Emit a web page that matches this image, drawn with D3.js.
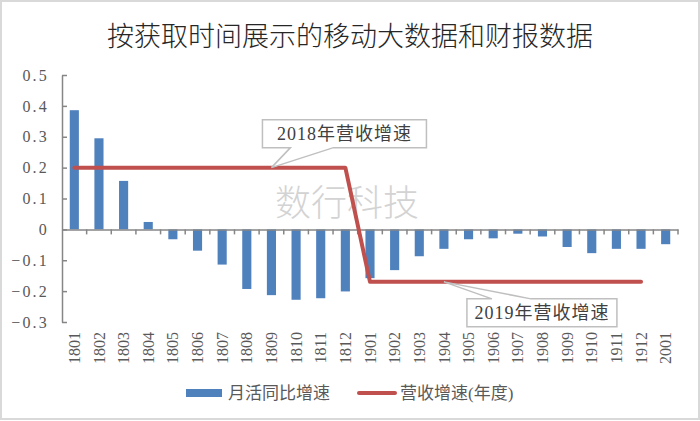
<!DOCTYPE html>
<html>
<head>
<meta charset="utf-8">
<script src="https://cdn.jsdelivr.net/npm/d3@7"></script>
<style>
  body { margin: 0; background: #fff; }
  text { font-family: "Liberation Serif", "Noto Sans CJK SC", serif; }
</style>
</head>
<body>
<div id="chart"></div>
<script>
// data
var categories = ["1801","1802","1803","1804","1805","1806","1807","1808","1809","1810","1811","1812",
                  "1901","1902","1903","1904","1905","1906","1907","1908","1909","1910","1911","1912","2001"];
var mauGrowth = [0.386, 0.295, 0.157, 0.024, -0.032, -0.069, -0.114, -0.193, -0.213, -0.228, -0.223, -0.201,
                 -0.158, -0.132, -0.087, -0.063, -0.032, -0.029, -0.014, -0.023, -0.057, -0.077, -0.063, -0.063, -0.048];
var revenueGrowth = [0.2, 0.2, 0.2, 0.2, 0.2, 0.2, 0.2, 0.2, 0.2, 0.2, 0.2, 0.2,
                     -0.17, -0.17, -0.17, -0.17, -0.17, -0.17, -0.17, -0.17, -0.17, -0.17, -0.17, -0.17, null];
var yTicks = [-0.3, -0.2, -0.1, 0, 0.1, 0.2, 0.3, 0.4, 0.5];
var legendNames = ["月活同比增速", "营收增速(年度)"];
var callouts = [
  {label: "2018年营收增速", at: "1809", above: true},
  {label: "2019年营收增速", at: "1904", above: false}
];

var W = 700, H = 421;
var blue = "#4f81bd", red = "#c0504d", axisColor = "#868686", labelColor = "#595959";

var svg = d3.select("#chart")
  .append("svg")
  .attr("width", W)
  .attr("height", H);

// outer frame
svg.append("rect")
  .attr("x", 1).attr("y", 1).attr("width", W - 2).attr("height", H - 3)
  .attr("fill", "#fff").attr("stroke", "#d9d9d9").attr("stroke-width", 2);

// title
svg.append("text")
  .attr("x", 350).attr("y", 46)
  .attr("text-anchor", "middle")
  .style("font-family", "'Noto Sans CJK SC', sans-serif")
  .style("font-size", "27px")
  .style("font-weight", 300)
  .attr("fill", "#262626")
  .text("按获取时间展示的移动大数据和财报数据");

var x = d3.scaleBand().domain(categories).range([62, 678]).padding(0);
var y = d3.scaleLinear().domain([-0.3, 0.5]).range([322, 75]);
var barW = x.step() * 0.37;

// watermark
svg.append("text")
  .attr("x", 347).attr("y", 216)
  .attr("text-anchor", "middle")
  .style("font-family", "'Noto Sans CJK SC', sans-serif")
  .style("font-size", "36px")
  .style("font-weight", 300)
  .attr("fill", "#d3d3d3")
  .text("数行科技");

// bars
svg.append("g").selectAll("rect")
  .data(categories)
  .join("rect")
  .attr("x", function(d) { return x(d) + x.bandwidth() / 2 - barW / 2; })
  .attr("width", barW)
  .attr("y", function(d, i) { return y(Math.max(0, mauGrowth[i])); })
  .attr("height", function(d, i) { return Math.abs(y(mauGrowth[i]) - y(0)); })
  .attr("fill", blue);

// y axis, ticks pointing inward
var yAxis = svg.append("g")
  .attr("transform", "translate(62,0)")
  .call(d3.axisLeft(y).tickValues(yTicks).tickSizeInner(-5).tickSizeOuter(0).tickPadding(13)
    .tickFormat(function(d) { return d === 0 ? "0" : d3.format(".1f")(d).replace("-", "\u2212"); }));
yAxis.selectAll("path, line").attr("stroke", axisColor).attr("stroke-width", 1.5);
yAxis.selectAll("text")
  .attr("fill", labelColor)
  .style("font-size", "16px")
  .style("letter-spacing", "2.2px");

// x axis on zero line, ticks at band boundaries
var xAxis = svg.append("g")
  .attr("transform", "translate(0," + y(0) + ")")
  .call(d3.axisBottom(x).tickSizeInner(5).tickSizeOuter(0).tickFormat(""));
xAxis.selectAll(".tick").attr("transform", function(d) {
  return "translate(" + (x(d) + x.step()) + ",0)";
});
xAxis.selectAll("path, line").attr("stroke", axisColor).attr("stroke-width", 1.5);

// category labels at the bottom, rotated
svg.append("g").selectAll("text")
  .data(categories)
  .join("text")
  .attr("transform", function(d) {
    return "translate(" + (x(d) + x.bandwidth() / 2) + ",332) rotate(-90)";
  })
  .attr("text-anchor", "end")
  .attr("dy", "0.35em")
  .attr("fill", labelColor)
  .style("font-size", "16px")
  .text(function(d) { return d; });

// revenue line
var line = d3.line()
  .defined(function(d) { return d[1] != null; })
  .x(function(d) { return x(d[0]) + x.bandwidth() / 2; })
  .y(function(d) { return y(d[1]); });

svg.append("path")
  .datum(categories.map(function(c, i) { return [c, revenueGrowth[i]]; }))
  .attr("d", line)
  .attr("fill", "none")
  .attr("stroke", red)
  .attr("stroke-width", 4)
  .attr("stroke-linecap", "round")
  .attr("stroke-linejoin", "round");

// callouts
callouts.forEach(function(c) {
  var i = categories.indexOf(c.at);
  var tx = x(c.at) + x.bandwidth() / 2, ty = y(revenueGrowth[i]);
  var bw = 164, bh = 28, bx, by, p;
  if (c.above) {
    bx = tx - 9; by = ty - 48;
    p = "M" + bx + "," + by + "h" + bw + "v" + bh + "H" + (tx + 62) + "L" + tx + "," + ty +
        "L" + (tx + 19) + "," + (by + bh) + "H" + bx + "Z";
  } else {
    bw = 150;
    bx = tx + 23; by = ty + 17;
    p = "M" + bx + "," + by + "H" + (tx + 48) + "L" + tx + "," + ty + "L" + (tx + 87) + "," + by +
        "H" + (bx + bw) + "v" + bh + "H" + bx + "Z";
  }
  svg.append("path")
    .attr("d", p)
    .attr("fill", "#fff")
    .attr("stroke", "#bfbfbf")
    .attr("stroke-width", 1.5);
  svg.append("text")
    .attr("x", bx + bw / 2).attr("y", by + bh / 2)
    .attr("dy", "0.36em")
    .attr("text-anchor", "middle")
    .attr("fill", "#404040")
    .style("font-size", "18px")
    .style("letter-spacing", "1px")
    .text(c.label);
});

// legend
var lg = svg.append("g");
lg.append("rect")
  .attr("x", 186).attr("y", 389).attr("width", 36).attr("height", 8)
  .attr("fill", blue);
lg.append("text")
  .attr("x", 228).attr("y", 393).attr("dy", "0.36em")
  .attr("fill", labelColor)
  .style("font-size", "17px")
  .text(legendNames[0]);
lg.append("line")
  .attr("x1", 359).attr("x2", 395).attr("y1", 393).attr("y2", 393)
  .attr("stroke", red).attr("stroke-width", 4).attr("stroke-linecap", "round");
lg.append("text")
  .attr("x", 400).attr("y", 393).attr("dy", "0.36em")
  .attr("fill", labelColor)
  .style("font-size", "17px")
  .text(legendNames[1]);
</script>
</body>
</html>
